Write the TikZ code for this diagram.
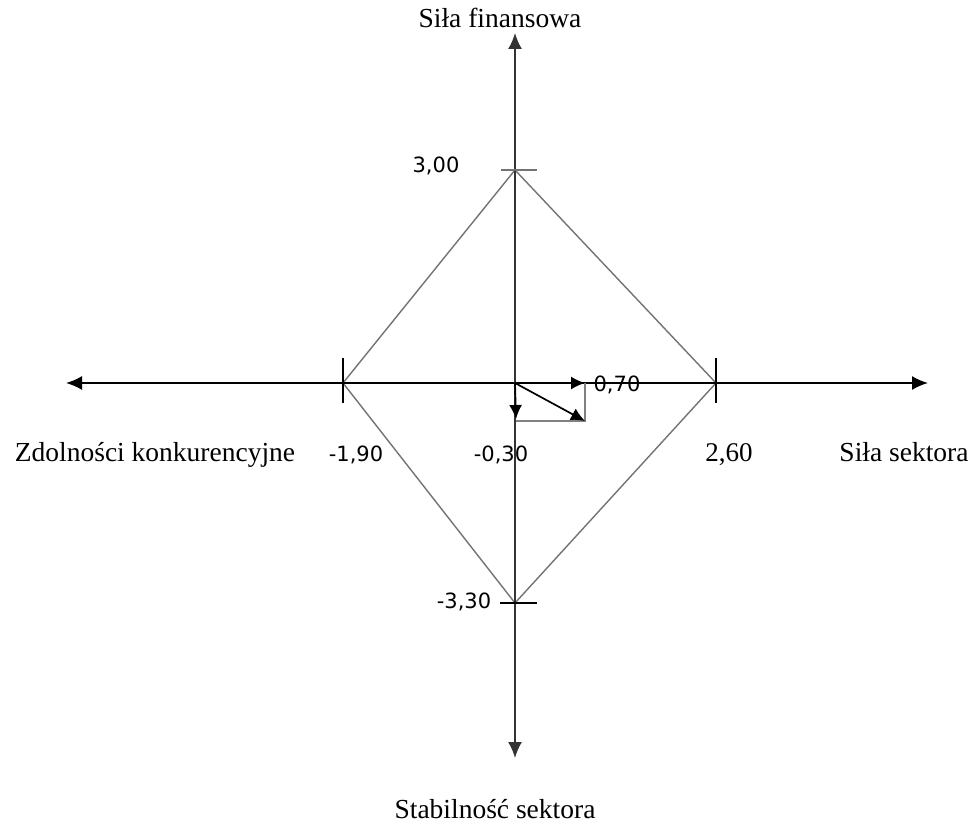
\documentclass[tikz,border=0pt]{standalone}
\usepackage{fontspec}
\setmainfont{Liberation Serif}
\newfontfamily\numfont{DejaVu Sans}
\usetikzlibrary{arrows.meta}
\begin{document}
\begin{tikzpicture}[x=1pt,y=-1pt,
  axisline/.style={line width=1.8pt,{Latex[length=16pt,width=14pt]}-{Latex[length=16pt,width=14pt]}},
  rhomb/.style={line width=1.4pt,draw=black!55},
  tickmark/.style={line width=1.7pt},
  vec/.style={line width=1.7pt,-{Latex[length=14pt,width=13pt]}},
  helper/.style={line width=1.7pt,draw=black!50},
  title/.style={font=\fontsize{27.5}{31}\selectfont,anchor=base,inner sep=0pt},
  serifnum/.style={font=\fontsize{27}{31}\selectfont,anchor=base,inner sep=0pt},
  sansnum/.style={font=\numfont\fontsize{21}{24}\selectfont,anchor=base,inner sep=0pt}]
\useasboundingbox (0,0) rectangle (971,829);
% axis ends
\coordinate (O) at (515,383);
\coordinate (L) at (66,383);
\coordinate (R) at (928,383);
\coordinate (T) at (515,33);
\coordinate (B) at (515,758);
% diamond vertices
\coordinate (Dt) at (515,170);
\coordinate (Dr) at (716,383);
\coordinate (Db) at (515,603);
\coordinate (Dl) at (343,383);
% diamond
\draw[rhomb] (Dt) -- (Dr) -- (Db) -- (Dl) -- cycle;
% axes
\draw[axisline] (L) -- (R);
\draw[axisline,draw=black!80] (B) -- (T);
% ticks
\draw[tickmark,draw=black!55] ([xshift=-14pt]Dt) -- ([xshift=22pt]Dt);
\draw[tickmark] ([yshift=-20pt]Dl) -- ([yshift=25pt]Dl);
\draw[tickmark] ([yshift=-20pt]Dr) -- ([yshift=25pt]Dr);
\draw[tickmark] ([xshift=-15pt]Db) -- ([xshift=22pt]Db);
% small vectors
\coordinate (V1) at (585,383);
\coordinate (V2) at (516,419);
\coordinate (V3) at (585,421);
\coordinate (C1) at (516,421);
\draw[helper] (V1) -- (V3) -- (C1);
\draw[vec] (O) -- (V1);
\draw[vec] (O) -- (V2);
\draw[vec] (O) -- (V3);
% labels
\node[title] (tTop) at (500,28) {Siła finansowa};
\node[title] (tBot) at (495,818) {Stabilność sektora};
\node[title] (tLeft) at (155,461) {Zdolności konkurencyjne};
\node[title] (tRight) at (904,461) {Siła sektora};
\node[sansnum] (n300) at (436,173) {3,00};
\node[sansnum] (n070) at (617,391) {0,70};
\node[sansnum] (n190) at (356,461) {-1,90};
\node[sansnum] (n030) at (501,461) {-0,30};
\node[serifnum] (n260) at (729,461) {2,60};
\node[sansnum] (n330) at (464,608) {-3,30};
\end{tikzpicture}
\end{document}
